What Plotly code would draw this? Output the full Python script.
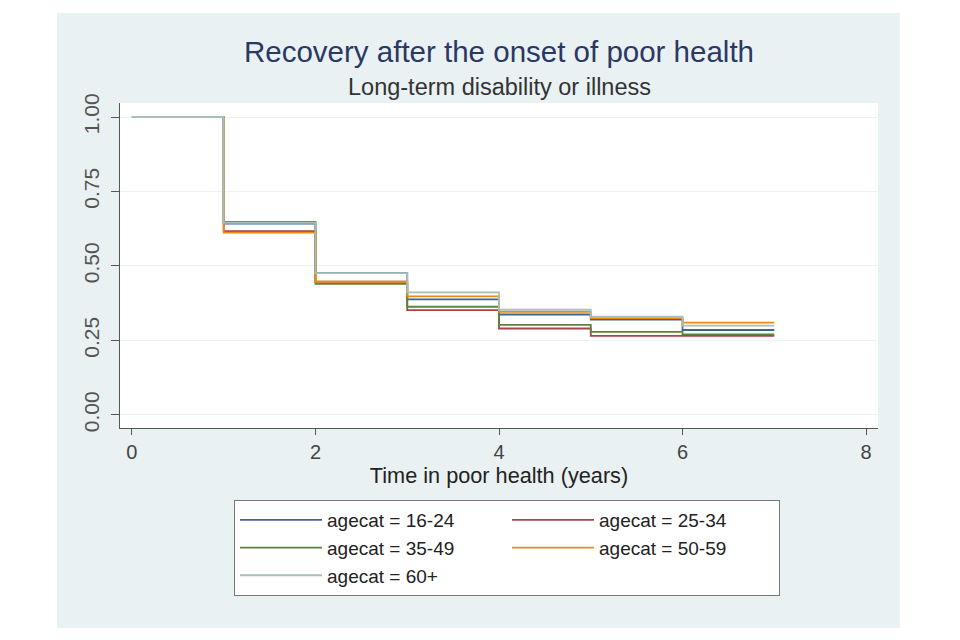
import plotly.graph_objects as go

# Data (Kaplan-Meier style step curves)
time_years = [0, 1, 2, 3, 4, 5, 6, 7]
groups = ["16-24", "25-34", "35-49", "50-59", "60+"]
surv_16_24 = [1.00, 0.642, 0.476, 0.388, 0.337, 0.320, 0.285, 0.285]
surv_25_34 = [1.00, 0.617, 0.447, 0.352, 0.290, 0.265, 0.265, 0.265]
surv_35_49 = [1.00, 0.648, 0.440, 0.363, 0.302, 0.279, 0.270, 0.270]
surv_50_59 = [1.00, 0.612, 0.447, 0.398, 0.346, 0.325, 0.310, 0.310]
surv_60p = [1.00, 0.645, 0.476, 0.411, 0.353, 0.330, 0.300, 0.300]
series = [surv_16_24, surv_25_34, surv_35_49, surv_50_59, surv_60p]
colors = ["#3f6592", "#a9434c", "#5a8437", "#ec8a12", "#a9c0b8"]

x_ticks = [0, 2, 4, 6, 8]
y_ticks = [0, 0.25, 0.5, 0.75, 1.0]
y_tick_labels = ["0.00", "0.25", "0.50", "0.75", "1.00"]

FONT = "Liberation Sans, Arial, sans-serif"

fig = go.Figure()
for g, ys, c in zip(groups, series, colors):
    fig.add_trace(go.Scatter(
        x=time_years, y=ys, mode="lines", line_shape="hv",
        line=dict(color=c, width=1.8),
        name=f"agecat = {g}",
    ))

OFF = 8  # page body margin
W, H = 960 - 2 * OFF, 640 - 2 * OFF
L, T = 120 - OFF, 103 - OFF
R = W - (878 - OFF)
B = H - (428 - OFF)
pw, ph = W - L - R, H - T - B

def px2paper_x(px):
    return (px - OFF - L) / pw

def px2paper_y(py):
    return (H - B - (py - OFF)) / ph

fig.update_layout(
    width=W, height=H,
    margin=dict(l=L, r=R, t=T, b=B),
    paper_bgcolor="white",
    plot_bgcolor="white",
    font=dict(family=FONT, color="#333333"),
    showlegend=True,
    title=dict(
        text="Recovery after the onset of poor health",
        font=dict(size=29.5, color="#2a3866", family=FONT),
        x=(L + pw / 2) / W, xanchor="center",
        y=1 - (52 - OFF) / H, yanchor="middle", yref="container",
    ),
    annotations=[dict(
        text="Long-term disability or illness",
        xref="paper", yref="paper", x=0.5, y=px2paper_y(87),
        xanchor="center", yanchor="middle", showarrow=False,
        font=dict(size=23.5, color="#333333", family=FONT),
    )],
    shapes=[
        dict(type="rect", xref="paper", yref="paper", layer="below",
             x0=px2paper_x(57), x1=px2paper_x(900),
             y0=px2paper_y(628), y1=px2paper_y(13),
             fillcolor="#eaf1f3", line=dict(width=0)),
        dict(type="rect", xref="x domain", yref="y domain", layer="below",
             x0=0, x1=1, y0=0, y1=1,
             fillcolor="white", line=dict(width=0)),
    ],
    xaxis=dict(
        range=[-0.13, 8.13], tickvals=x_ticks, ticktext=[str(v) for v in x_ticks],
        showgrid=False, zeroline=False, showline=True, linecolor="#555555",
        linewidth=1, ticks="outside", ticklen=6, tickcolor="#555555",
        tickfont=dict(size=20, color="#444444"),
        title=dict(text="Time in poor health (years)", standoff=2,
                   font=dict(size=21.7, color="#222222")),
    ),
    yaxis=dict(
        range=[-0.044, 1.047], tickvals=y_ticks, ticktext=y_tick_labels,
        tickangle=-90, showgrid=True, gridcolor="#edf3f4", gridwidth=1,
        zeroline=False, showline=True, linecolor="#555555", linewidth=1,
        ticks="outside", ticklen=8, tickcolor="#555555",
        ticklabelstandoff=4,
        tickfont=dict(size=21, color="#555555"),
    ),
    legend=dict(
        orientation="h", x=px2paper_x(234), y=px2paper_y(500),
        xanchor="left", yanchor="top",
        bgcolor="white", bordercolor="#777777", borderwidth=1,
        font=dict(size=19, color="#222222", family=FONT),
        itemwidth=82, entrywidth=175, entrywidthmode="pixels",
        traceorder="normal",
    ),
)

fig.write_html("out.html")
